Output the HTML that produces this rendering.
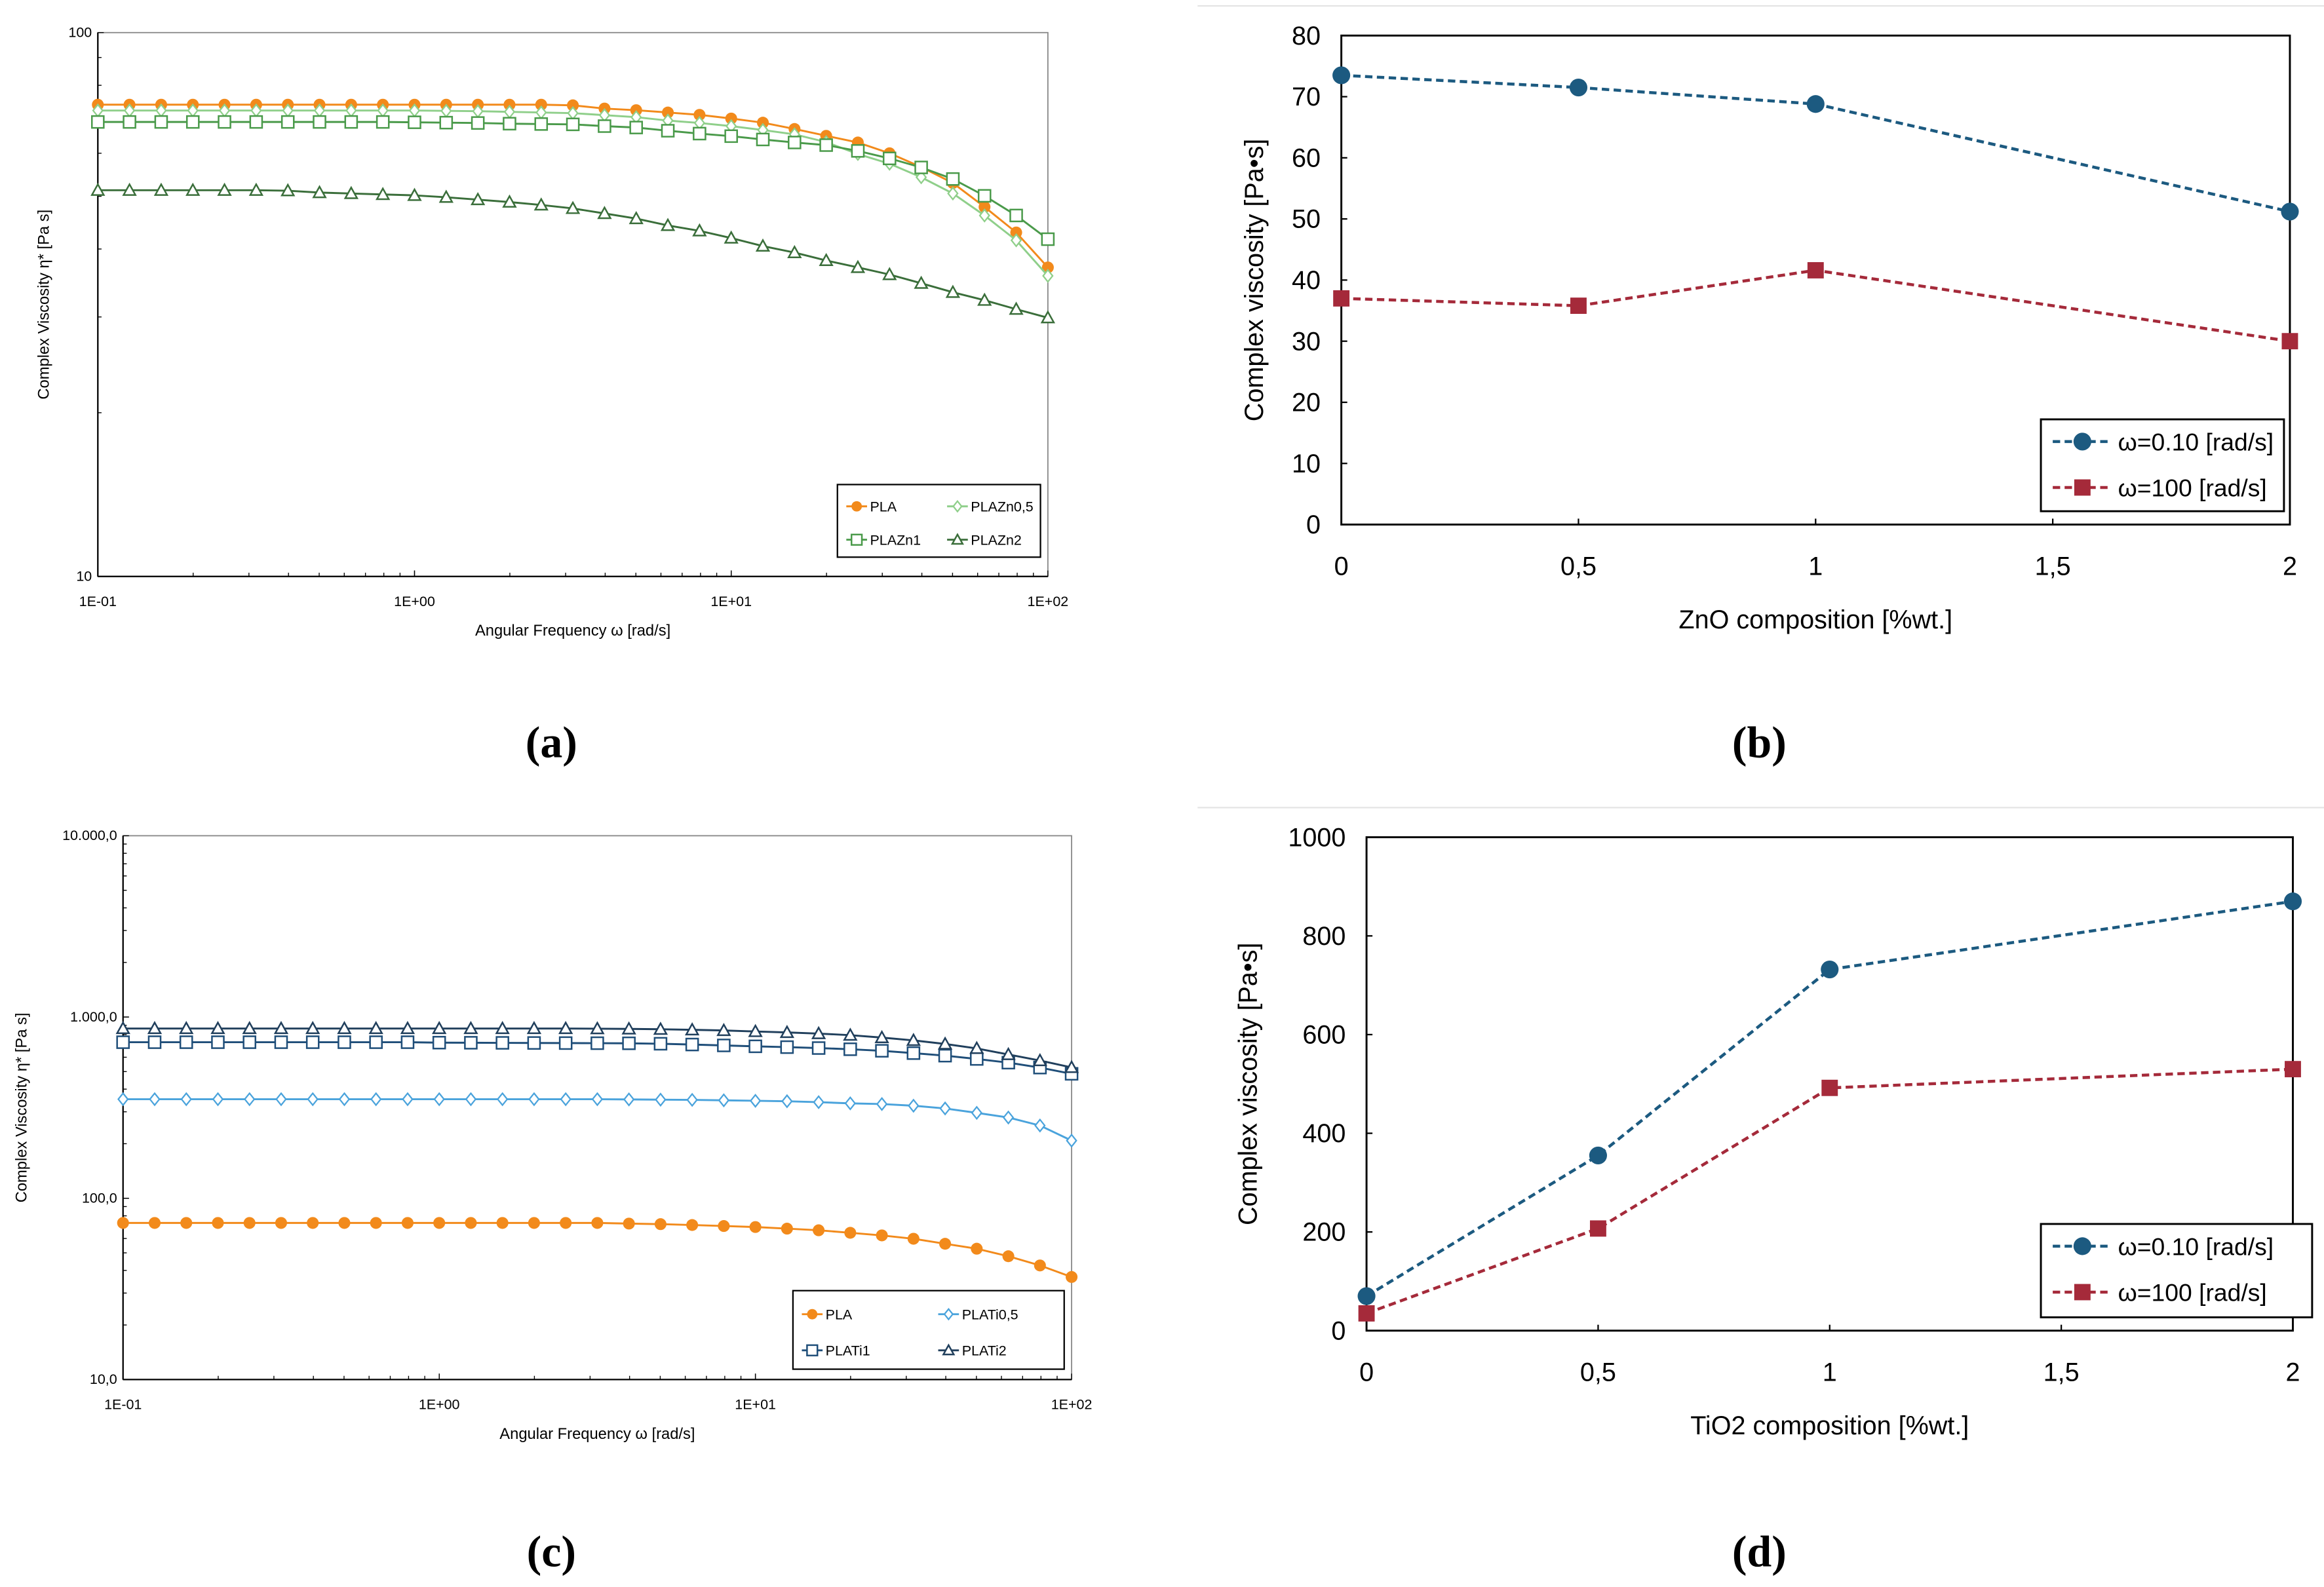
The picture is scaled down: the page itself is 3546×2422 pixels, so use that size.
<!DOCTYPE html>
<html><head><meta charset="utf-8"><style>
html,body{margin:0;padding:0;background:#fff;}
svg{display:block;font-family:"Liberation Sans",sans-serif;}
</style></head><body>
<svg id="fig" width="3546" height="2422" viewBox="0 0 1568 1071" xmlns="http://www.w3.org/2000/svg">
<rect width="1568" height="1071" fill="#fff"/>
<line x1="808" y1="4" x2="1568" y2="4" stroke="#e4e4e4" stroke-width="1"/>
<line x1="808" y1="545" x2="1568" y2="545" stroke="#e4e4e4" stroke-width="1"/>
<text x="372" y="511" font-family="Liberation Serif,serif" font-weight="bold" font-size="30" text-anchor="middle">(a)</text>
<text x="1187" y="511" font-family="Liberation Serif,serif" font-weight="bold" font-size="30" text-anchor="middle">(b)</text>
<text x="372" y="1057" font-family="Liberation Serif,serif" font-weight="bold" font-size="30" text-anchor="middle">(c)</text>
<text x="1187" y="1057" font-family="Liberation Serif,serif" font-weight="bold" font-size="30" text-anchor="middle">(d)</text>
</svg>
<script>
// ---- data panel (a) ----
const freqExpStart = -1; // omega from 0.1 to 100, 10 pts/decade
const aPLA = [73.7,73.7,73.7,73.7,73.7,73.7,73.7,73.7,73.7,73.7,73.7,73.7,73.7,73.7,73.7,73.5,72.5,72.0,71.3,70.6,69.5,68.3,66.5,64.6,62.8,60.0,56.6,52.9,47.8,42.9,37.0];
const aZn05 = [71.9,71.9,71.9,71.9,71.9,71.9,71.9,71.9,71.9,71.9,71.9,71.8,71.7,71.5,71.3,71.1,70.5,69.9,68.9,68.2,67.3,66.2,65.0,62.9,59.8,57.4,54.2,50.6,46.1,41.5,35.7];
const aZn1 = [68.5,68.5,68.5,68.5,68.5,68.5,68.5,68.5,68.5,68.5,68.4,68.3,68.2,68.0,67.9,67.8,67.3,66.9,66.0,65.2,64.5,63.6,62.8,62.1,60.6,58.7,56.5,53.8,50.1,46.1,41.7];
const aZn2 = [51.3,51.3,51.3,51.3,51.3,51.3,51.2,50.8,50.6,50.4,50.2,49.8,49.3,48.8,48.2,47.5,46.5,45.5,44.2,43.2,41.9,40.5,39.4,38.1,37.0,35.9,34.6,33.3,32.2,31.0,29.9];
// ---- data panel (c) ----
const cPLA = [73.1,73.1,73.1,73.1,73.1,73.1,73.1,73.1,73.1,73.1,73.1,73.1,73.1,73.1,73.1,73.1,72.5,72.0,71.2,70.3,69.4,68.0,66.6,64.5,62.4,59.8,56.1,52.7,47.9,42.6,36.8];
const cTi05 = [352,352,352,352,352,352,352,352,352,352,352,352,352,352,352,352,351,350,349,347,345,343,339,334,331,324,313,296,279,252,208];
const cTi1 = [726,726,726,726,726,726,726,726,726,726,722,721,720,719,718,717,716,712,705,697,689,682,674,664,651,632,612,587,560,526,486];
const cTi2 = [864,864,864,864,864,864,864,864,864,864,864,864,864,864,864,862,860,856,850,843,832,822,810,794,770,743,710,671,621,575,527];
// ---- data panels (b),(d) ----
const compCats = [0,0.5,1,2];
const bLow = [73.5,71.5,68.8,51.2];
const bHigh = [37,35.8,41.6,30];
const dLow = [70,355,732,870];
const dHigh = [35,207,492,530];
const bYTicks = [0,10,20,30,40,50,60,70,80];
const dYTicks = [0,200,400,600,800,1000];
const xCompTicks = [0,0.5,1,1.5,2];
const xCompLabels = ["0","0,5","1","1,5","2"];

const NS="http://www.w3.org/2000/svg";
const svg=document.getElementById('fig');
function el(tag,attrs,parent,text){const e=document.createElementNS(NS,tag);for(const k in attrs)e.setAttribute(k,attrs[k]);if(text!==undefined)e.textContent=text;(parent||svg).appendChild(e);return e;}
const omegas=[];for(let i=0;i<=30;i++)omegas.push(Math.pow(10,freqExpStart+i/10));

function marker(g,type,x,y,color,r){
  let m;
  if(type==='circle')m=el('circle',{cx:x,cy:y,r:r,fill:color},g);
  else if(type==='diamond')m=el('polygon',{points:`${x},${y-r} ${x+r*0.8},${y} ${x},${y+r} ${x-r*0.8},${y}`,fill:'#fff',stroke:color,'stroke-width':1},g);
  else if(type==='square')m=el('rect',{x:x-r,y:y-r,width:2*r,height:2*r,fill:'#fff',stroke:color,'stroke-width':1.1},g);
  else if(type==='triangle')m=el('polygon',{points:`${x},${y-r} ${x+r},${y+r*0.8} ${x-r},${y+r*0.8}`,fill:'#fff',stroke:color,'stroke-width':1.1},g);
  else if(type==='fsquare')m=el('rect',{x:x-r,y:y-r,width:2*r,height:2*r,fill:color},g);
  return m;
}

function logPanel(p){
  const g=el('g',{});
  
  
  const X=v=>p.x0+(Math.log10(v)-(-1))/3*(p.x1-p.x0);
  const Y=v=>p.y1-(Math.log10(v)-p.ylog0)/(p.ylog1-p.ylog0)*(p.y1-p.y0);
  el('rect',{x:p.x0,y:p.y0,width:p.x1-p.x0,height:p.y1-p.y0,fill:'none',stroke:'#888','stroke-width':0.8},g);
  el('line',{x1:p.x0,y1:p.y0,x2:p.x0,y2:p.y1,stroke:'#000','stroke-width':1},g);
  el('line',{x1:p.x0,y1:p.y1,x2:p.x1,y2:p.y1,stroke:'#000','stroke-width':1},g);
  for(let d=p.ylog0;d<p.ylog1;d++)for(let k=1;k<=10;k++){const v=k*Math.pow(10,d);el('line',{x1:p.x0,x2:p.x0+(k===1||k===10?4:2.5),y1:Y(v),y2:Y(v),stroke:'#000','stroke-width':0.6},g);}
  for(let d=-1;d<2;d++)for(let k=1;k<=10;k++){const v=k*Math.pow(10,d);el('line',{x1:X(v),x2:X(v),y1:p.y1,y2:p.y1-(k===1||k===10?4:2.5),stroke:'#000','stroke-width':0.6},g);}
  p.yLabels.forEach((t,i)=>{const tx=el('text',{x:p.x0-4,y:Y(Math.pow(10,p.ylog0+i))+3,'font-size':9.5,'text-anchor':'end'},g,t);});
  ['1E-01','1E+00','1E+01','1E+02'].forEach((t,i)=>{const tx=el('text',{x:X(Math.pow(10,i-1)),y:p.y1+20,'font-size':9.5,'text-anchor':'middle'},g,t);});
  const xt=el('text',{x:(p.x0+p.x1)/2,y:p.y1+40,'font-size':10.5,'text-anchor':'middle'},g,'Angular Frequency ω [rad/s]');
  
  const yt=el('text',{x:0,y:0,'font-size':10.5,'text-anchor':'middle',transform:`translate(${p.ytx},${(p.y0+p.y1)/2}) rotate(-90)`},g,'Complex Viscosity η* [Pa s]');
  
  p.series.forEach(s=>{
    const sg=el('g',{},g);
    
    
    el('polyline',{points:s.data.map((v,i)=>X(omegas[i])+','+Y(v)).join(' '),fill:'none',stroke:s.color,'stroke-width':1.3},sg);
    s.data.forEach((v,i)=>{const m=marker(sg,s.type,X(omegas[i]),Y(v),s.color,s.type==='circle'?4:4);});
  });
  const L=p.legend;
  const lg=el('g',{},g);
  
  el('rect',{x:L.x,y:L.y,width:L.w,height:L.h,fill:'#fff',stroke:'#000','stroke-width':1},lg);
  p.series.forEach((s,i)=>{
    const cx=L.x+6+(i%2)*L.colW, cy=L.y+L.h*0.3+Math.floor(i/2)*L.h*0.46;
    el('line',{x1:cx,x2:cx+14,y1:cy,y2:cy,stroke:s.color,'stroke-width':1.3},lg);
    marker(lg,s.type,cx+7,cy,s.color,3.5);
    const t=el('text',{x:cx+16,y:cy+3.5,'font-size':9.5},lg,s.label);
    
  });
}

logPanel({name:'chart-a',x0:66,x1:707,y0:22,y1:389,ylog0:1,ylog1:2,yLabels:['10','100'],ytx:33,
 series:[{label:'PLA',data:aPLA,color:'#f28a1b',type:'circle'},{label:'PLAZn0,5',data:aZn05,color:'#8fcf8a',type:'diamond'},{label:'PLAZn1',data:aZn1,color:'#4a9a4a',type:'square'},{label:'PLAZn2',data:aZn2,color:'#3a6e3a',type:'triangle'}],
 legend:{x:565,y:327,w:137,h:49,colW:68}});
logPanel({name:'chart-c',x0:83,x1:723,y0:564,y1:931,ylog0:1,ylog1:4,yLabels:['10,0','100,0','1.000,0','10.000,0'],ytx:18,
 series:[{label:'PLA',data:cPLA,color:'#f28a1b',type:'circle'},{label:'PLATi0,5',data:cTi05,color:'#4aa3dc',type:'diamond'},{label:'PLATi1',data:cTi1,color:'#1f4e79',type:'square'},{label:'PLATi2',data:cTi2,color:'#203f5c',type:'triangle'}],
 legend:{x:535,y:871,w:183,h:53,colW:92}});

function linPanel(p){
  const g=el('g',{});
  
  
  const X=v=>p.x0+v/2*(p.x1-p.x0);
  const Y=v=>p.y1-v/p.ymax*(p.y1-p.y0);
  el('rect',{x:p.x0,y:p.y0,width:p.x1-p.x0,height:p.y1-p.y0,fill:'none',stroke:'#000','stroke-width':1.3},g);
  p.yTicks.forEach(v=>{el('line',{x1:p.x0,x2:p.x0+4,y1:Y(v),y2:Y(v),stroke:'#000','stroke-width':1},g);
    const t=el('text',{x:p.x0-14,y:Y(v)+6,'font-size':17.5,'text-anchor':'end'},g,String(v));});
  xCompTicks.forEach((v,i)=>{el('line',{x1:X(v),x2:X(v),y1:p.y1,y2:p.y1-4,stroke:'#000','stroke-width':1},g);
    const t=el('text',{x:X(v),y:p.y1+34,'font-size':17.5,'text-anchor':'middle'},g,xCompLabels[i]);});
  const xt=el('text',{x:(p.x0+p.x1)/2,y:p.y1+70,'font-size':17.5,'text-anchor':'middle'},g,p.xTitle);
  
  const yt=el('text',{x:0,y:0,'font-size':17.5,'text-anchor':'middle',transform:`translate(${p.ytx},${(p.y0+p.y1)/2}) rotate(-90)`},g,'Complex viscosity [Pa•s]');
  
  const series=[{label:'ω=0.10 [rad/s]',data:p.low,color:'#1c5a80',type:'circle'},{label:'ω=100 [rad/s]',data:p.high,color:'#a52a3a',type:'fsquare'}];
  series.forEach(s=>{
    const sg=el('g',{},g);
    
    
    el('polyline',{points:s.data.map((v,i)=>X(compCats[i])+','+Y(v)).join(' '),fill:'none',stroke:s.color,'stroke-width':2,'stroke-dasharray':'5,3'},sg);
    s.data.forEach((v,i)=>{const m=marker(sg,s.type,X(compCats[i]),Y(v),s.color,s.type==='circle'?6:5.5);});
  });
  const L=p.legend;
  const lg=el('g',{},g);
  
  el('rect',{x:L.x,y:L.y,width:L.w,height:L.h,fill:'#fff',stroke:'#000','stroke-width':1.3},lg);
  series.forEach((s,i)=>{
    const cy=L.y+15+i*31;
    el('line',{x1:L.x+8,x2:L.x+48,y1:cy,y2:cy,stroke:s.color,'stroke-width':2,'stroke-dasharray':'5,3'},lg);
    marker(lg,s.type,L.x+28,cy,s.color,s.type==='circle'?6:5.5);
    const t=el('text',{x:L.x+52,y:cy+6,'font-size':16.5},lg,s.label);
    
  });
}
linPanel({name:'chart-b',x0:905,x1:1545,y0:24,y1:354,ymax:80,yTicks:bYTicks,low:bLow,high:bHigh,xTitle:'ZnO composition [%wt.]',ytx:852,legend:{x:1377,y:283,w:164,h:62}});
linPanel({name:'chart-d',x0:922,x1:1547,y0:565,y1:898,ymax:1000,yTicks:dYTicks,low:dLow,high:dHigh,xTitle:'TiO2 composition [%wt.]',ytx:848,legend:{x:1377,y:826,w:183,h:63}});
</script>
</body></html>
